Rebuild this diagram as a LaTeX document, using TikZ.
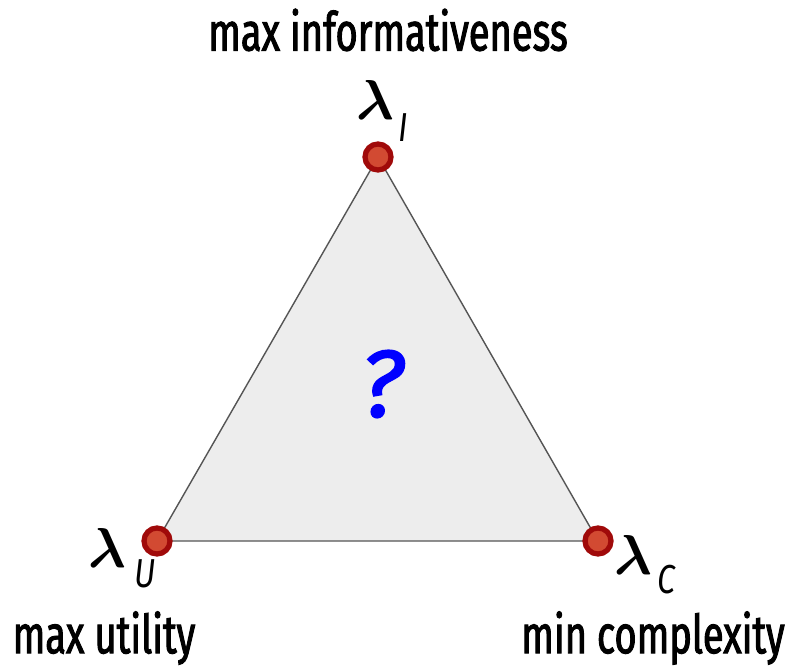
\RequirePackage{fix-cm}
\documentclass[tikz,border=0pt]{standalone}
\usepackage{amsmath}
\usepackage{bm}
\usepackage{xcolor}
\usepackage{fontspec}
\setmainfont[FakeStretch=0.71, FakeBold=1.8]{Fira Sans}
\newfontfamily\subfont[FakeStretch=0.8]{Fira Sans}
\newfontfamily\askfont[FakeBold=1.6]{Fira Sans}
\usepackage{tikz}
\usetikzlibrary{positioning}

\definecolor{dotred}{HTML}{D24A32}
\definecolor{dotedge}{HTML}{A00A0A}
\definecolor{trifill}{HTML}{EDEDED}
\definecolor{triedge}{HTML}{555555}

\begin{document}
\begin{tikzpicture}[
  corner/.style={circle, draw=dotedge, fill=dotred, line width=3pt, minimum size=0.52cm, inner sep=0pt},
  goal/.style={font=\fontsize{30.5}{32}\selectfont},
  lam/.style={font=\fontsize{32}{36}\selectfont},
  sub/.style={font=\fontsize{23}{25}\selectfont\subfont\itshape}
]
\useasboundingbox (0,0) rectangle (15.8,13.34);

\coordinate(I) at (7.56,10.2);
\coordinate(U) at (3.14,2.52);
\coordinate(C) at (11.96,2.52);

\draw[triedge, fill=trifill, line width=0.8pt] (I) -- (U) -- (C) -- cycle;

\node(q) at (7.64,5.66) {\fontsize{54}{58}\selectfont\askfont\itshape\color{blue}?};

\node[corner](dI) at (I) {};
\node[corner](dU) at (U) {};
\node[corner](dC) at (C) {};


\node[lam](lI) at (7.5,11.34) {$\bm{\lambda}$};
\node[sub](sI) at (8.06,10.78) {I};

\node[lam](lU) at (2.14,2.38) {$\bm{\lambda}$};
\node[sub](sU) at (2.9,1.86) {U};

\node[lam](lC) at (12.66,2.24) {$\bm{\lambda}$};
\node[sub](sC) at (13.32,1.74) {C};


\node[goal](gI) at (7.76,12.74) {max informativeness};
\node[goal](gU) at (2.08,0.58) {max utility};
\node[goal](gC) at (13.06,0.58) {min complexity};

\end{tikzpicture}
\end{document}
